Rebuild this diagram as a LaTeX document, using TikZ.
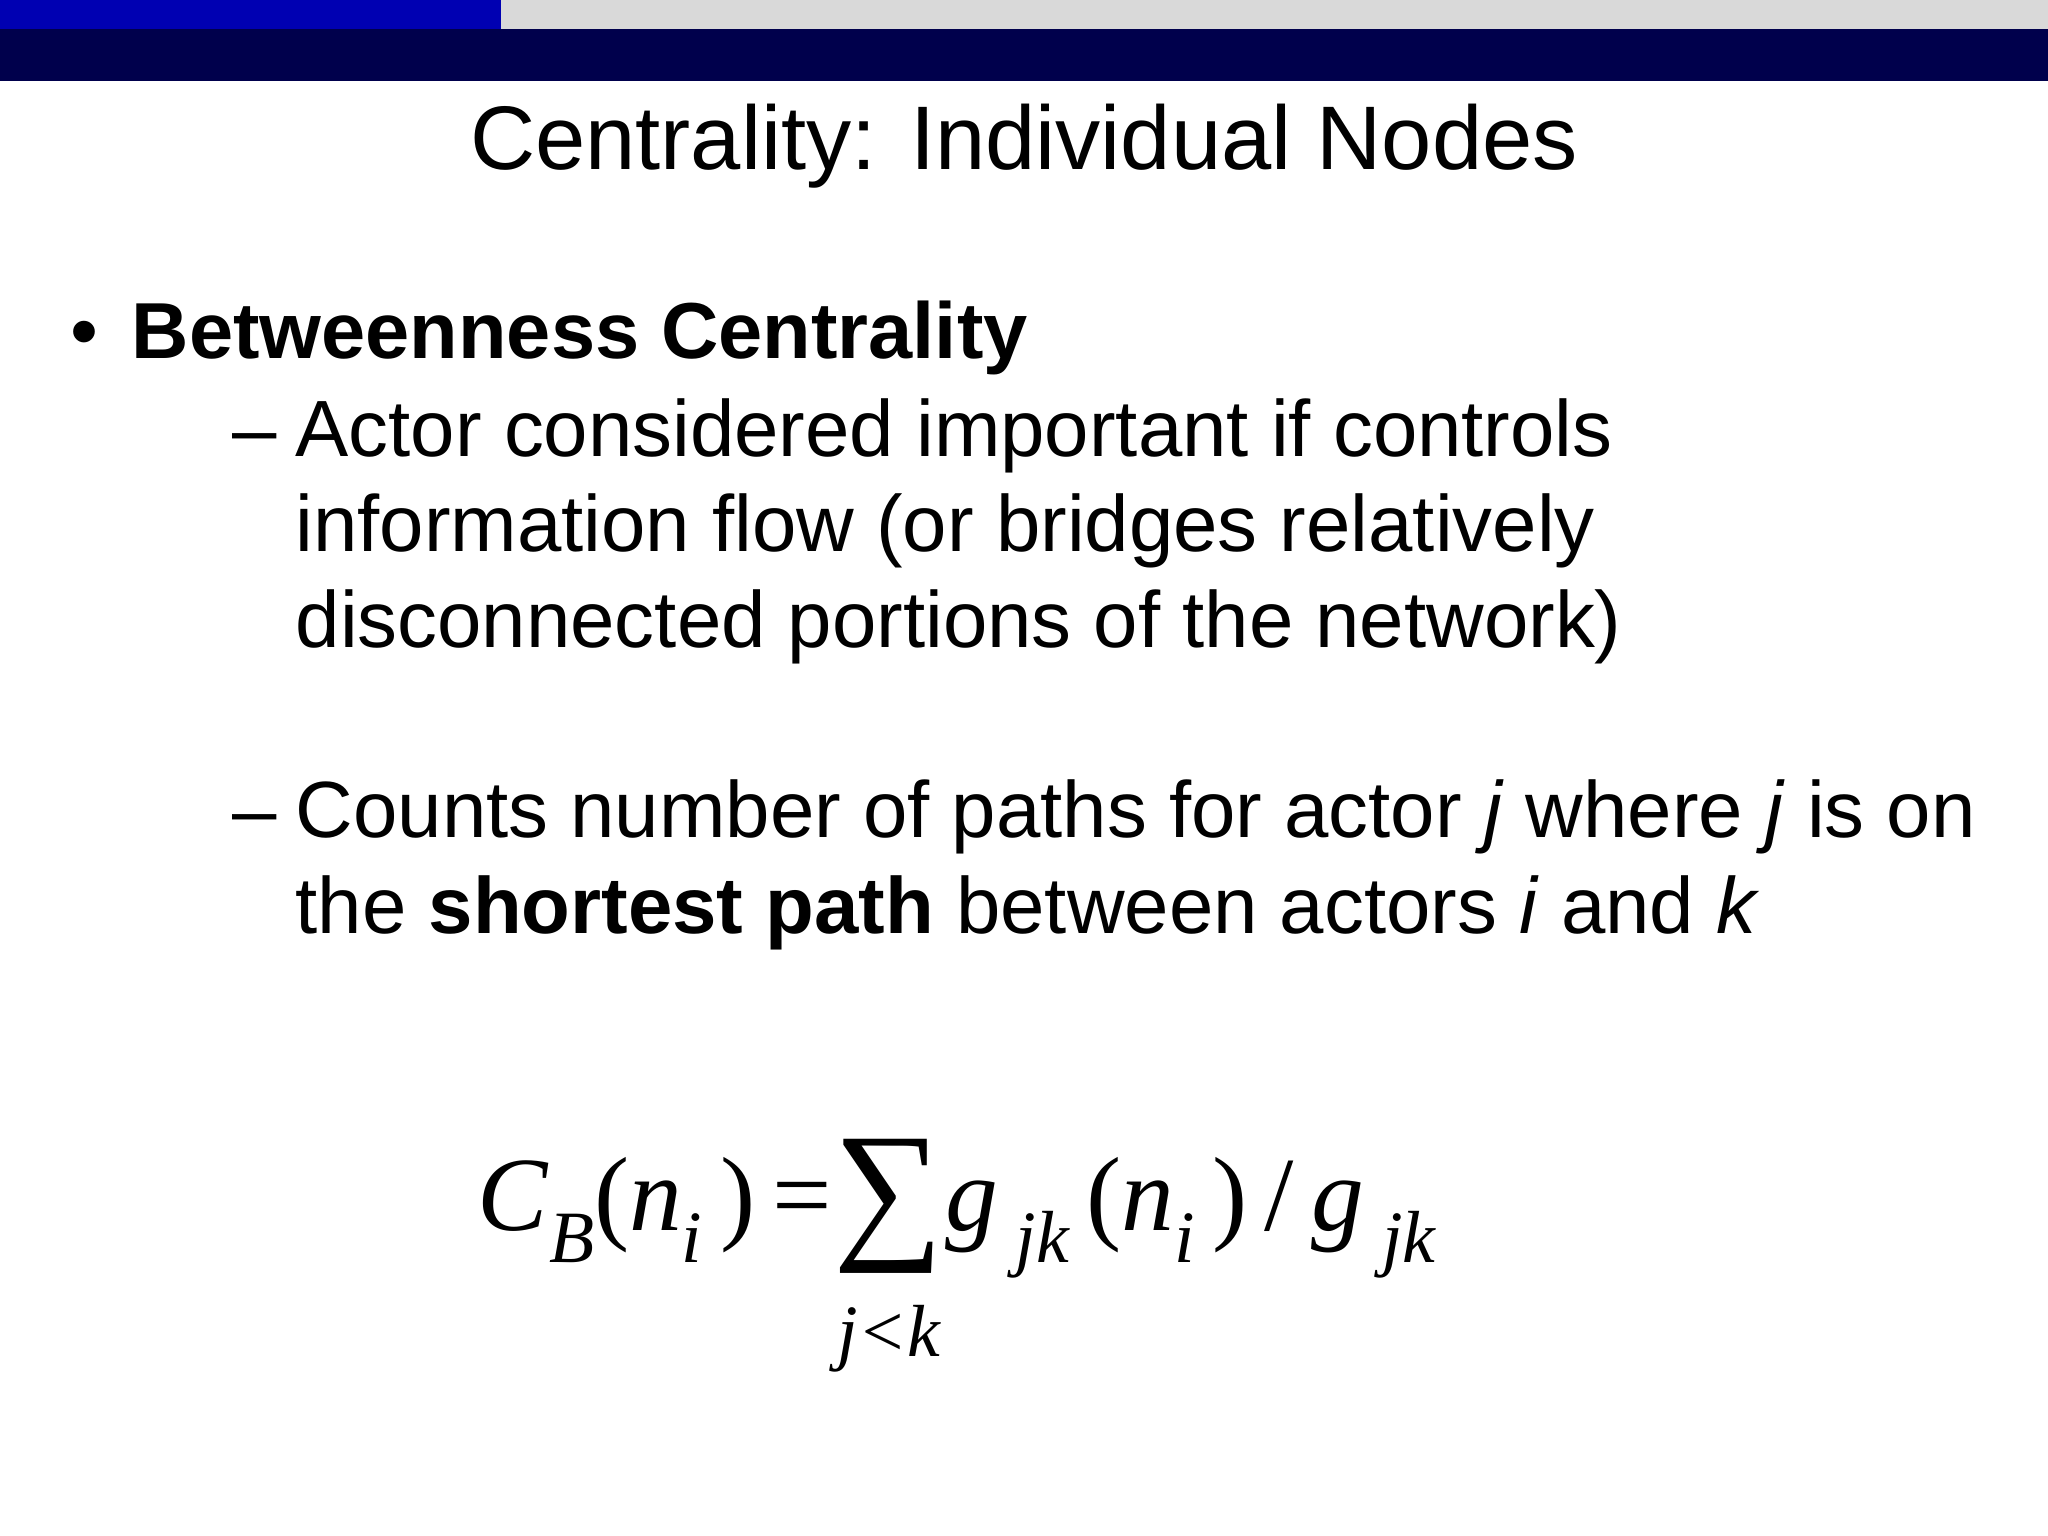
\documentclass[tikz,border=0pt]{standalone}
\usepackage{fontspec}
\setmainfont{Liberation Sans}
\newfontfamily\tms{Liberation Serif}
\newcommand{\sbs}[1]{\raisebox{-0.3em}{\fontsize{21}{25}\selectfont\itshape #1}}
\begin{document}
\begin{tikzpicture}[x=1cm,y=1cm,
  txt/.style={anchor=base west,inner sep=0pt,font=\fontsize{22.7}{27}\selectfont},
  fm/.style={anchor=base west,inner sep=0pt,font=\fontsize{30}{36}\selectfont\tms}]
\useasboundingbox (0,0) rectangle (20.48,15.36);
\fill[white] (0,0) rectangle (20.48,15.36);
\fill[black!15] (5.01,15.36) rectangle (20.48,15.07);
\fill[blue!70!black] (0,15.36) rectangle (5.01,15.07);
\fill[blue!30!black] (0,15.07) rectangle (20.48,14.55);
\node[font=\fontsize{25.7}{30}\selectfont] (title) at (10.24,13.90) {Centrality: Individual Nodes};
\node[txt] (b1) at (0.70,11.77) {•};
\node[txt,font=\fontsize{22.6}{27}\selectfont\bfseries] (h) at (1.31,11.77) {Betweenness Centrality};
\node[txt] (d1) at (2.32,10.79) {–};
\node[txt] (l1) at (2.95,10.79) {Actor considered important if controls};
\node[txt] (l2) at (2.95,9.84) {information flow (or bridges relatively};
\node[txt] (l3) at (2.95,8.88) {disconnected portions of the network)};
\node[txt] (d2) at (2.32,6.98) {–};
\node[txt] (l4) at (2.95,6.98) {Counts number of paths for actor \textit{j} where \textit{j} is on};
\node[txt] (l5) at (2.95,6.02) {the \textbf{shortest path} between actors \textit{i} and \textit{k}};
\node[fm] (f1) at (4.77,3.05) {\textit{C}\sbs{B}(\textit{n}\sbs{i}\,)\,=};
\node[fm,font=\fontsize{44}{50}\selectfont\tms] (sum) at ([yshift=-0.1cm]f1.base east) {∑};
\node[inner sep=0pt,font=\fontsize{21}{25}\selectfont\tms\itshape,anchor=north] (lim) at ([yshift=-0.3cm]sum.south) {j<k};
\node[fm] (f2) at ([yshift=0.1cm]sum.base east) {\textit{g}\,\sbs{jk}\,(\textit{n}\sbs{i}\,)\,/\,\textit{g}\,\sbs{jk}};
\end{tikzpicture}
\end{document}
